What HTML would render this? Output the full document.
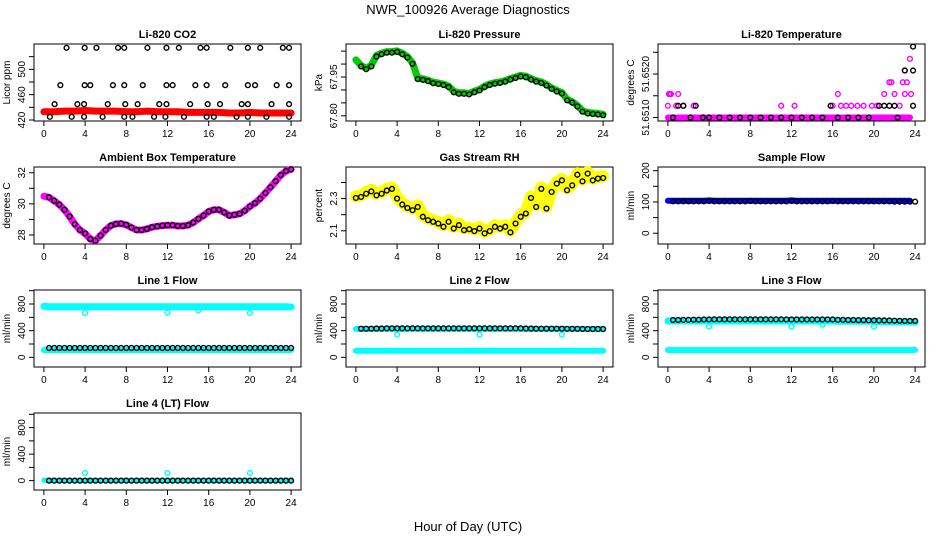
<!DOCTYPE html>
<html><head><meta charset="utf-8"><style>
body{margin:0;background:#fff}
svg{display:block;font-family:"Liberation Sans",sans-serif}
</style></head><body>
<svg id="fig" width="936" height="540" viewBox="0 0 936 540">
<text x="468" y="14" text-anchor="middle" font-size="13">NWR_100926  Average Diagnostics</text>
<text x="468" y="531" text-anchor="middle" font-size="13">Hour of Day (UTC)</text>
</svg>
<script>
const xTicks=[0,4,8,12,16,20,24];
const halfHours=[0,0.5,1,1.5,2,2.5,3,3.5,4,4.5,5,5.5,6,6.5,7,7.5,8,8.5,9,9.5,10,10.5,11,11.5,12,12.5,13,13.5,14,14.5,15,15.5,16,16.5,17,17.5,18,18.5,19,19.5,20,20.5,21,21.5,22,22.5,23,23.5,24];
const hours=[0,1,2,3,4,5,6,7,8,9,10,11,12,13,14,15,16,17,18,19,20,21,22,23,24];
const co2Red=[433,433,434,434,435,434,434,434,433,433,434,433,433,433,432,432,432,432,431,431,432,431,431,431,431];
const co2BlackHours=[2.2,3.96,5.1,7.2,7.8,10.05,11.9,13.1,15.2,15.8,18.1,19.8,21,23.2,23.8,1.6,3.96,4.5,6.7,7.8,9.6,11.9,12.5,14.7,15.8,17.6,19.8,20.5,22.6,23.8,1.04,3.25,3.9,6.2,7.9,9.1,11.2,11.9,14.2,15.9,17.1,19.2,19.8,22.1,23.8,0.58,2.7,3.9,5.7,7.8,8.6,10.7,11.8,13.6,15.8,16.5,18.7,19.8,21.6,23.8];
const co2BlackVals=[534,534,534,534,534,534,534,534,534,534,534,534,534,534,534,475,475,475,475,475,475,475,475,475,475,475,475,475,475,475,445,445,445,445,445,445,445,445,445,445,445,445,445,445,445,425,425,425,425,425,425,425,425,425,425,425,425,425,425,425];
const pressure=[68.016,67.995,67.984,67.995,68.033,68.042,68.048,68.048,68.051,68.042,68.029,68.005,67.946,67.943,67.938,67.930,67.927,67.923,67.915,67.895,67.889,67.889,67.887,67.895,67.902,67.915,67.923,67.928,67.931,67.936,67.944,67.950,67.956,67.953,67.944,67.936,67.931,67.921,67.908,67.898,67.890,67.864,67.855,67.840,67.820,67.813,67.811,67.809,67.806];
const tempBase=51.6510;
const tempMagHours=[0,0.1,0.2,0.3,0.8,1.0,1.5,2.5,11,12.3,16,16.5,16.8,17.3,17.8,18.4,19,19.8,20.3,21,21.5,21.7,22,22.5,22.8,23,23,23.2,23.5,23.6];
const tempMagVals=[51.65127,51.65154,51.65154,51.65154,51.65127,51.65154,51.65127,51.65127,51.65127,51.65127,51.65127,51.65154,51.65127,51.65127,51.65127,51.65127,51.65127,51.65127,51.65127,51.65154,51.65181,51.65181,51.65154,51.65127,51.65181,51.65208,51.65154,51.65181,51.65235,51.65154];
const tempBlackHours=[0.5,1.0,1.5,2.2,2.7,3.4,4,5,6,7,8,9,10,11,12,13,14,15,15.8,16.5,17.5,18.5,19.5,20.5,21,21.5,22,22.3,23,23.8,23.8,23.8];
const tempBlackVals=[51.6510,51.65127,51.65127,51.6510,51.65127,51.6510,51.6510,51.6510,51.6510,51.6510,51.6510,51.6510,51.6510,51.6510,51.6510,51.6510,51.6510,51.6510,51.65127,51.6510,51.6510,51.6510,51.6510,51.65127,51.65127,51.65127,51.65127,51.6510,51.65208,51.65208,51.65127,51.65263];
const ambient=[30.49,30.42,30.2,29.95,29.62,29.19,28.69,28.32,28.1,27.74,27.63,27.96,28.32,28.6,28.71,28.73,28.65,28.48,28.32,28.32,28.39,28.5,28.56,28.6,28.63,28.63,28.58,28.58,28.63,28.8,29.04,29.25,29.51,29.62,29.62,29.45,29.25,29.3,29.36,29.56,29.84,30.05,30.34,30.7,31.07,31.46,31.85,32.11,32.22];
const rh=[2.304,2.31,2.33,2.345,2.32,2.33,2.35,2.36,2.30,2.263,2.242,2.228,2.248,2.187,2.166,2.156,2.145,2.125,2.156,2.114,2.135,2.104,2.11,2.098,2.114,2.084,2.098,2.125,2.114,2.125,2.09,2.145,2.187,2.207,2.304,2.248,2.36,2.238,2.341,2.393,2.413,2.352,2.382,2.448,2.407,2.455,2.413,2.424,2.428];
const sampleBlue=[104,104,104,104,104,104,104,104,105,104,104,104,104,104,104,104,104,104,104,104,104,104,104,104,105,104,104,104,104,104,104,104,104,104,104,104,104,104,104,104,104,104,104,104,104,104,104,104,104];
const sampleBlack=[102,102,102,102,102,102,102,102,103,102,102,102,102,102,102,102,103,102,102,102,102,102,102,102,103,102,102,102,102,102,102,102,103,102,102,102,102,102,102,102,102,102,102,102,101,101,101,101,101];
const line1Cyan=[765,760,760,760,760,760,760,760,760,760,760,760,760,760,760,760,760,760,760,760,760,760,760,760,760,760,760,760,760,760,760,760,760,760,760,760,760,760,760,760,760,760,760,760,760,760,760,760,755];
const line1Low=[110,110,110,110,110,110,110,110,110,110,110,110,110,110,110,110,110,110,110,110,110,110,110,110,110,110,110,110,110,110,110,110,110,110,110,110,110,110,110,110,110,110,110,110,110,110,110,110,110];
const line1Black=[140,140,140,140,140,140,140,140,140,140,140,140,140,140,140,140,140,140,140,140,140,140,140,140,140,140,140,140,140,140,140,140,140,140,140,140,140,140,140,140,140,140,140,140,140,140,140,140,140];
const line1DipHours=[4,12,15,20];
const line1DipVals=[665,670,705,665];
const line2Cyan=[425,425,425,425,425,425,425,425,425,425,425,425,425,425,425,425,425,425,425,425,425,425,425,425,425,425,425,425,425,425,425,425,425,425,425,425,425,425,425,425,425,425,425,425,425,425,425,425,420];
const line2Low=[100,100,100,100,100,100,100,100,100,100,100,100,100,100,100,100,100,100,100,100,100,100,100,100,100,100,100,100,100,100,100,100,100,100,100,100,100,100,100,100,100,100,100,100,100,100,100,100,100];
const line2Black=[430,430,430,430,432,432,435,435,435,435,435,435,435,435,435,435,435,435,435,435,435,435,435,435,435,435,435,435,435,435,435,435,435,432,432,430,430,430,430,430,430,428,428,428,426,425,425,425,425];
const line2DipHours=[4,12,20];
const line2DipVals=[340,340,340];
const line3Cyan=[545,545,545,545,545,545,545,545,545,545,545,545,545,545,545,545,545,545,545,545,545,545,545,545,545,545,545,545,545,545,545,545,545,540,540,540,540,540,540,540,540,535,535,535,530,530,530,530,530];
const line3Low=[110,110,110,110,110,110,110,110,110,110,110,110,110,110,110,110,110,110,110,110,110,110,110,110,110,110,110,110,110,110,110,110,110,110,110,110,110,110,110,110,110,110,110,110,110,110,110,110,110];
const line3Black=[560,560,560,562,562,565,565,568,568,570,570,570,570,570,570,570,570,570,570,570,570,570,570,568,568,568,568,568,568,568,568,568,568,562,562,560,560,558,558,556,556,554,554,552,550,548,546,546,546];
const line3DipHours=[4,12,15,20];
const line3DipVals=[460,460,490,460];
const line4Cyan=[5,3,3,3,3,3,3,3,3,3,3,3,3,3,3,3,3,3,3,3,3,3,3,3,3,3,3,3,3,3,3,3,3,3,3,3,3,3,3,3,3,3,3,3,3,3,3,3,3];
const line4Black=[0,0,0,0,0,0,0,0,0,0,0,0,0,0,0,0,0,0,0,0,0,0,0,0,0,0,0,0,0,0,0,0,0,0,0,0,0,0,0,0,0,0,0,0,0,0,0,0,0];
const line4DipHours=[4,12,20];
const line4DipVals=[115,115,115];

const NS="http://www.w3.org/2000/svg";
const svg=document.getElementById('fig');
function mk(tag,attrs,parent){const e=document.createElementNS(NS,tag);for(const k in attrs)e.setAttribute(k,attrs[k]);(parent||svg).appendChild(e);return e;}

function panel(c,r,title,ylab,ymin,ymax,yt,yl,name){
  const x0=34+312*c,w=267,y0=44+123*r,h=77;
  const g=mk('g',{});
  
  
  const sx=v=>x0+(v+0.96)/25.92*w;
  const sy=v=>y0+h-(v-ymin)/(ymax-ymin)*h;
  const t=mk('text',{x:x0+w/2,y:y0-6,'text-anchor':'middle','font-size':11,'font-weight':'bold'},g);
  t.textContent=title;
  
  
  const box=mk('rect',{x:x0,y:y0,width:w,height:h,fill:'none',stroke:'#000','stroke-width':1},g);
  
  
  const xa=mk('g',{},g);
  
  
  xTicks.forEach(v=>{const X=sx(v);
    mk('line',{x1:X,x2:X,y1:y0+h,y2:y0+h+5,stroke:'#000'},xa);
    const l=mk('text',{x:X,y:y0+h+16,'text-anchor':'middle','font-size':10},xa);l.textContent=v;
    
    });
  const ya=mk('g',{},g);
  
  
  yt.forEach((v,i)=>{const Y=sy(v);
    mk('line',{x1:x0-5,x2:x0,y1:Y,y2:Y,stroke:'#000'},ya);
    if(yl[i]!==''){const l=mk('text',{x:x0-9,y:Y,'text-anchor':'middle','font-size':10,transform:`rotate(-90 ${x0-9} ${Y})`},ya);l.textContent=yl[i];
    
    }});
  const yy=y0+h/2;
  const yt2=mk('text',{x:x0-24,y:yy,'text-anchor':'middle','font-size':10,transform:`rotate(-90 ${x0-24} ${yy})`},g);
  yt2.textContent=ylab;
  
  
  const d=mk('g',{},g);
  
  
  return {sx,sy,d};
}
function band(p,xs,ys,col,wd,nm){
  const pts=xs.map((x,i)=>p.sx(x).toFixed(1)+','+p.sy(ys[i]).toFixed(1)).join(' ');
  const e=mk('polyline',{points:pts,fill:'none',stroke:col,'stroke-width':wd,'stroke-linejoin':'round','stroke-linecap':'round'},p.d);
  
  
}
function pts(p,xs,ys,col,nm,rad){
  xs.forEach((x,i)=>{const e=mk('circle',{cx:p.sx(x),cy:p.sy(ys[i]),r:rad||2.4,fill:'none',stroke:col,'stroke-width':1.4},p.d);
    
    });
}
const blackH=halfHours.slice(1);

let p=panel(0,0,'Li-820 CO2','Licor ppm',418.4,540,[420,440,460,480,500,520],['420','','460','','500',''],'co2');
band(p,hours,co2Red,'#ff0000',7,'co2-red-band');
pts(p,hours,co2Red,'#ff0000','co2-red-point');
pts(p,co2BlackHours,co2BlackVals,'#000','co2-black-point');

p=panel(1,0,'Li-820 Pressure','kPa',67.780,68.0775,[67.80,67.85,67.90,67.95,68.00,68.05],['67.80','','','67.95','',''],'pressure');
band(p,halfHours,pressure,'#00cc00',7,'pressure-green-band');
pts(p,blackH,pressure.slice(1).map(v=>v-0.004),'#000','pressure-black-point');

p=panel(2,0,'Li-820 Temperature','degrees C',51.65092,51.65269,[51.6510,51.6515,51.6520,51.6525],['51.6510','','51.6520',''],'li-temp');
band(p,[0,23.5],[tempBase,tempBase],'#ff00ff',6,'li-temp-magenta-band');
pts(p,tempMagHours,tempMagVals,'#ff00ff','li-temp-magenta-point');
pts(p,tempBlackHours,tempBlackVals,'#000','li-temp-black-point');

p=panel(0,1,'Ambient Box Temperature','degrees C',27.42,32.37,[28,29,30,31,32],['28','','30','','32'],'ambient');
band(p,halfHours,ambient,'#ff00ff',7,'ambient-magenta-band');
pts(p,blackH,ambient.slice(1),'#000','ambient-black-point');

p=panel(1,1,'Gas Stream RH','percent',2.018,2.496,[2.1,2.2,2.3,2.4],['2.1','','2.3',''],'rh');
band(p,halfHours,rh.map(v=>v+0.01),'#ffff00',12,'rh-yellow-band');
pts(p,halfHours,rh,'#000','rh-black-point');

p=panel(2,1,'Sample Flow','ml/min',-34.4,211.8,[0,50,100,150,200],['0','','100','','200'],'sample-flow');
band(p,halfHours.slice(0,48),sampleBlue.slice(0,48),'#0000ff',6,'sample-blue-band');
pts(p,blackH,sampleBlack.slice(1),'#000','sample-black-point');

const flowT=[0,200,400,600,800,1000],flowL=['0','','400','','800',''];
p=panel(0,2,'Line 1 Flow','ml/min',-145,1010,flowT,flowL,'line1');
band(p,halfHours,line1Cyan,'#00ffff',7,'line1-cyan-band');
band(p,halfHours,line1Low,'#00ffff',6,'line1-cyan-low-band');
pts(p,line1DipHours,line1DipVals,'#00ffff','line1-cyan-dip');
pts(p,blackH,line1Black.slice(1),'#000','line1-black-point');

p=panel(1,2,'Line 2 Flow','ml/min',-145,1010,flowT,flowL,'line2');
band(p,halfHours,line2Cyan,'#00ffff',6,'line2-cyan-band');
band(p,halfHours,line2Low,'#00ffff',6,'line2-cyan-low-band');
pts(p,line2DipHours,line2DipVals,'#00ffff','line2-cyan-dip');
pts(p,blackH,line2Black.slice(1),'#000','line2-black-point');

p=panel(2,2,'Line 3 Flow','ml/min',-145,1010,flowT,flowL,'line3');
band(p,halfHours,line3Cyan,'#00ffff',7,'line3-cyan-band');
band(p,halfHours,line3Low,'#00ffff',6,'line3-cyan-low-band');
pts(p,line3DipHours,line3DipVals,'#00ffff','line3-cyan-dip');
pts(p,blackH,line3Black.slice(1),'#000','line3-black-point');

p=panel(0,3,'Line 4 (LT) Flow','ml/min',-141,1020,flowT,flowL,'line4');
band(p,halfHours,line4Cyan,'#00ffff',5,'line4-cyan-band');
pts(p,line4DipHours,line4DipVals,'#00ffff','line4-cyan-dip');
pts(p,blackH,line4Black.slice(1),'#000','line4-black-point');
</script>
</body></html>
